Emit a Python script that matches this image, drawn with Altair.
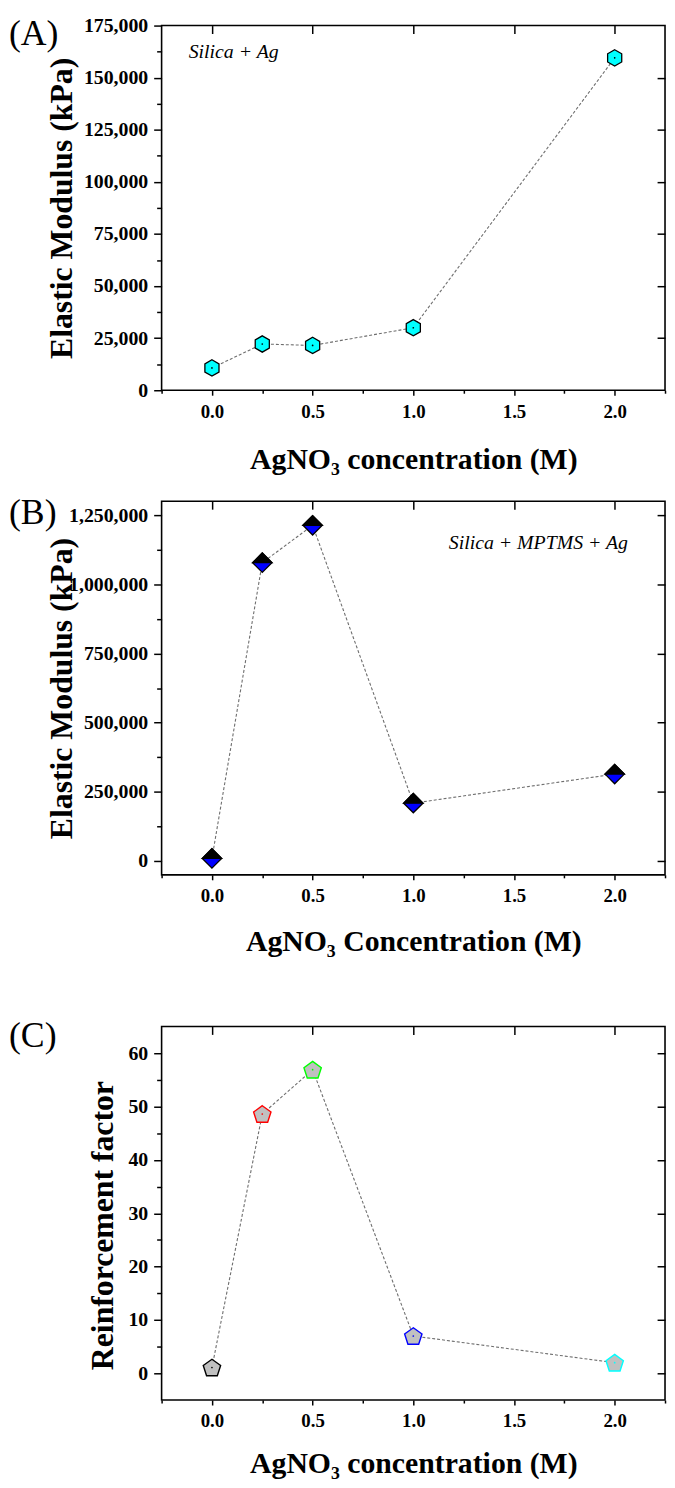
import altair as alt
import pandas as pd

# ---------------- data ----------------
conc = [0.0, 0.25, 0.5, 1.0, 2.0]
modulus_silica_ag = [10700, 22200, 21500, 30000, 159500]
modulus_silica_mptms_ag = [9300, 1078000, 1213000, 209000, 314000]
reinforcement = [1.1, 48.6, 56.9, 7.0, 2.0]
reinf_colors = ["#000000", "#ff0000", "#00ff00", "#0000ff", "#00ffff"]

panel_labels = ["(A)", "(B)", "(C)"]
annotations = ["Silica + Ag", "Silica + MPTMS + Ag"]

x_ticks = [-0.25, 0.0, 0.25, 0.5, 0.75, 1.0, 1.25, 1.5, 1.75, 2.0, 2.25]
x_major = [0.0, 0.5, 1.0, 1.5, 2.0]
ya_ticks = [0, 12500, 25000, 37500, 50000, 62500, 75000, 87500, 100000,
            112500, 125000, 137500, 150000, 162500, 175000]
ya_major = [25000, 50000, 75000, 100000, 125000, 150000]
yb_ticks = [0, 125000, 250000, 375000, 500000, 625000, 750000, 875000,
            1000000, 1125000, 1250000]
yb_major = [0, 250000, 500000, 750000, 1000000, 1250000]
yc_ticks = [0, 5, 10, 15, 20, 25, 30, 35, 40, 45, 50, 55, 60]
yc_major = [0, 10, 20, 30, 40, 50, 60]

W = 508
HA, HB, HC = 368, 377, 377
FONT = "Liberation Serif"

HEX = "M0,-1L0.866,-0.5L0.866,0.5L0,1L-0.866,0.5L-0.866,-0.5Z"
DIAMOND = "M0,-1L1,0L0,1L-1,0Z"
DIAMOND_TOP = "M-1,0L0,-1L1,0Z"
PENTAGON = "M0,-0.905L0.951,-0.214L0.588,0.904L-0.588,0.904L-0.951,-0.214Z"

xscale = alt.Scale(domain=[-0.25, 2.25], nice=False, zero=False)


def bottom_axis(title, title_y):
    return alt.Axis(
        orient="bottom", values=x_ticks, domain=False, grid=False,
        labelExpr="datum.value % 0.5 === 0 ? format(datum.value, '.1f') : ''",
        tickSize={"condition": {"test": "datum.value % 0.5 === 0", "value": 5}, "value": 3},
        tickColor="black", tickWidth=1.5, labelOverlap=False,
        labelFont=FONT, labelFontSize=19, labelFontWeight="bold", labelColor="black",
        labelPadding=7,
        title=title, titleFont=FONT, titleFontSize=30, titleFontWeight="bold",
        titleColor="black", titleY=title_y, titleBaseline="alphabetic",
    )


def left_axis(title, ticks, major_test, fmt, title_x, title_y):
    return alt.Axis(
        orient="left", values=ticks, domain=False, grid=False,
        labelExpr=f"{major_test} ? format(datum.value, '{fmt}') : ''",
        tickSize={"condition": {"test": major_test, "value": 8}, "value": 5},
        tickColor="black", tickWidth=1.5, labelOverlap=False,
        labelFont=FONT, labelFontSize=20, labelFontWeight="bold", labelColor="black",
        labelPadding=6,
        title=title, titleFont=FONT, titleFontSize=32, titleFontWeight="bold",
        titleColor="black", titleX=title_x, titleY=title_y, titleAngle=270,
        titleAlign="center", titleBaseline="alphabetic",
    )


top_axis = alt.Axis(orient="top", values=x_major, labels=False, domain=False,
                    grid=False, tickSize=8, offset=-8, tickColor="black",
                    tickWidth=1.5, title=None)


def right_axis(major):
    return alt.Axis(orient="right", values=major, labels=False, domain=False,
                    grid=False, tickSize=8, offset=-8, tickColor="black",
                    tickWidth=1.5, title=None)


def label_layer(txt, y):
    return alt.Chart(pd.DataFrame({"t": [txt]})).mark_text(
        font=FONT, fontSize=36, align="left", baseline="top", color="black"
    ).encode(text="t:N", x=alt.value(-154), y=alt.value(y))


def note_layer(txt, x, y, align):
    return alt.Chart(pd.DataFrame({"t": [txt]})).mark_text(
        font=FONT, fontSize=20, fontStyle="italic", align=align,
        baseline="alphabetic", color="black"
    ).encode(text="t:N", x=alt.value(x), y=alt.value(y))


line_style = dict(color="#6e6e6e", strokeWidth=1.1, strokeDash=[3, 2])

# ---------------- panel A ----------------
dfa = pd.DataFrame({"c": conc, "v": modulus_silica_ag})
ysa = alt.Scale(domain=[0, 175000], nice=False, zero=False)
baseA = alt.Chart(dfa)
lineA = baseA.mark_line(**line_style).encode(
    x=alt.X("c:Q", scale=xscale, axis=bottom_axis("AgNO₃ concentration (M)", 79)),
    y=alt.Y("v:Q", scale=ysa, axis=left_axis(
        "Elastic Modulus (kPa)", ya_ticks, "datum.value % 25000 === 0", ",",
        -90.7, HA / 2)),
)
ptsA = baseA.mark_point(shape=HEX, filled=True, fill="#00ffff", stroke="black",
                        strokeWidth=1.3, size=270, opacity=1).encode(
    x=alt.X("c:Q", scale=xscale, axis=top_axis),
    y=alt.Y("v:Q", scale=ysa, axis=right_axis(ya_major)),
)
dotA = baseA.mark_point(shape="circle", filled=True, color="black", size=3,
                        opacity=1).encode(
    x=alt.X("c:Q", scale=xscale, axis=None),
    y=alt.Y("v:Q", scale=ysa, axis=None),
)
panelA = alt.layer(
    lineA, ptsA, dotA, label_layer(panel_labels[0], -8),
    note_layer(annotations[0], 27.3, 33, "left"),
).resolve_axis(x="independent", y="independent").properties(width=W, height=HA)

# ---------------- panel B ----------------
dfb = pd.DataFrame({"c": conc, "v": modulus_silica_mptms_ag})
ysb = alt.Scale(domain=[-50000, 1300000], nice=False, zero=False)
baseB = alt.Chart(dfb)
lineB = baseB.mark_line(**line_style).encode(
    x=alt.X("c:Q", scale=xscale, axis=bottom_axis("AgNO₃ Concentration (M)", 76)),
    y=alt.Y("v:Q", scale=ysb, axis=left_axis(
        "Elastic Modulus (kPa)", yb_ticks, "datum.value % 250000 === 0", ",",
        -90.7, HB / 2)),
)
ptsB = baseB.mark_point(shape=DIAMOND, filled=True, fill="#0000ff", stroke="black",
                        strokeWidth=1.3, size=380, opacity=1).encode(
    x=alt.X("c:Q", scale=xscale, axis=top_axis),
    y=alt.Y("v:Q", scale=ysb, axis=right_axis(yb_major)),
)
topB = baseB.mark_point(shape=DIAMOND_TOP, filled=True, fill="black", stroke="black",
                        strokeWidth=1.3, size=380, opacity=1).encode(
    x=alt.X("c:Q", scale=xscale, axis=None),
    y=alt.Y("v:Q", scale=ysb, axis=None),
)
panelB = alt.layer(
    lineB, ptsB, topB, label_layer(panel_labels[1], -5),
    note_layer(annotations[1], 470.6, 48.3, "right"),
).resolve_axis(x="independent", y="independent").properties(width=W, height=HB)

# ---------------- panel C ----------------
dfc = pd.DataFrame({"c": conc, "v": reinforcement, "col": reinf_colors})
ysc = alt.Scale(domain=[-5, 65], nice=False, zero=False)
baseC = alt.Chart(dfc)
lineC = baseC.mark_line(**line_style).encode(
    x=alt.X("c:Q", scale=xscale, axis=bottom_axis("AgNO₃ concentration (M)", 73.5)),
    y=alt.Y("v:Q", scale=ysc, axis=left_axis(
        "Reinforcement factor", yc_ticks, "datum.value % 10 === 0", "d",
        -50, HC / 2 + 12)),
)
ptsC = baseC.mark_point(shape=PENTAGON, filled=True, fill="#c0c0c0",
                        strokeWidth=1.4, size=340, opacity=1).encode(
    x=alt.X("c:Q", scale=xscale, axis=top_axis),
    y=alt.Y("v:Q", scale=ysc, axis=right_axis(yc_major)),
    stroke=alt.Stroke("col:N", scale=None),
)
dotC = baseC.mark_point(shape="circle", filled=True, size=3, opacity=1).encode(
    x=alt.X("c:Q", scale=xscale, axis=None),
    y=alt.Y("v:Q", scale=ysc, axis=None),
    color=alt.Color("col:N", scale=None),
)
panelC = alt.layer(
    lineC, ptsC, dotC, label_layer(panel_labels[2], -7.4),
).resolve_axis(x="independent", y="independent").properties(width=W, height=HC)

chart = alt.vconcat(
    alt.vconcat(panelA, panelB, spacing=19),
    panelC,
    spacing=60,
).properties(padding=0).configure_view(stroke="black", strokeWidth=1.6)

chart.save("out.html", embed_options={"renderer": "svg", "actions": False})
